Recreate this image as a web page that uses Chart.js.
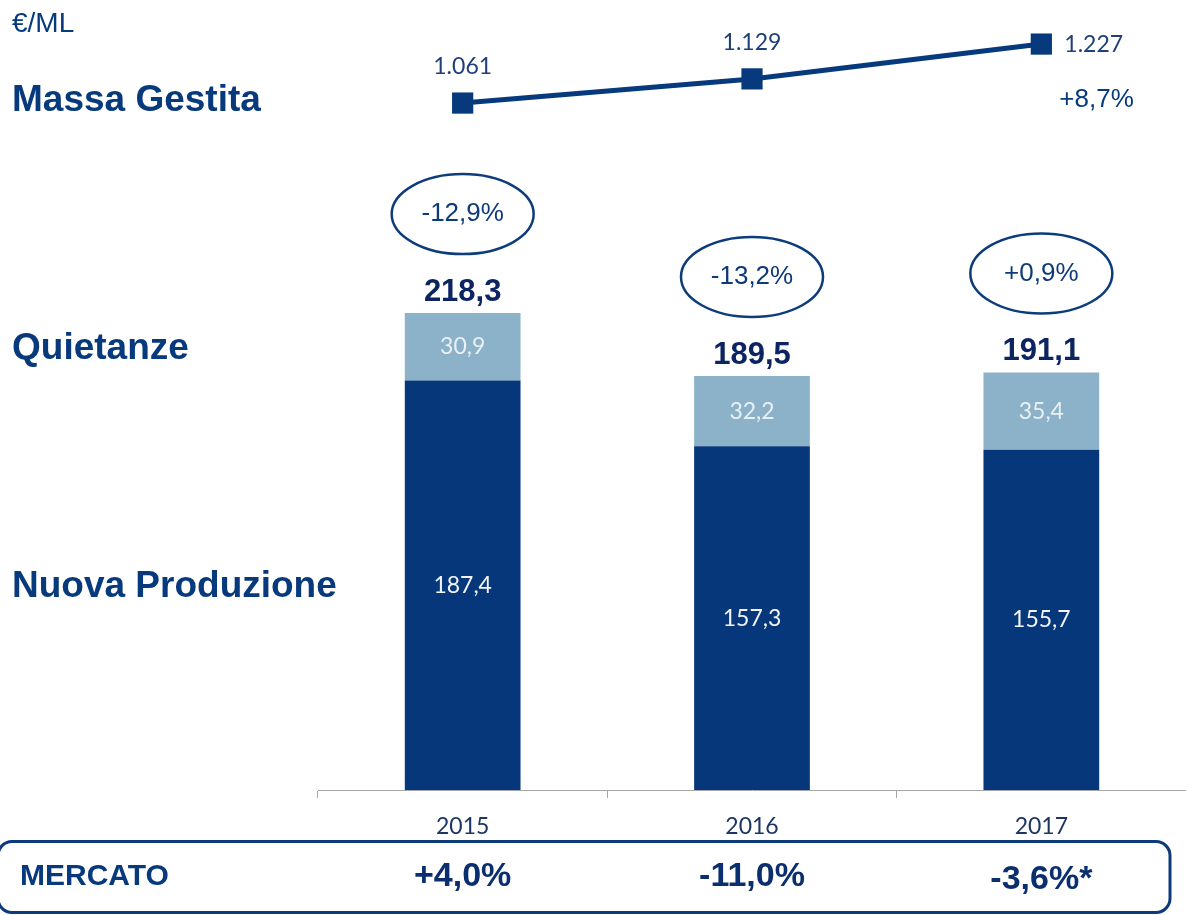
<!DOCTYPE html>
<html lang="it">
<head>
<meta charset="utf-8">
<title>Massa Gestita</title>
<script src="https://cdn.jsdelivr.net/npm/chart.js@4.4.1/dist/chart.umd.min.js"></script>
<style>
  html, body { margin: 0; padding: 0; background: #fff; }
  #wrap { width: 1186px; height: 915px; }
</style>
</head>
<body>
<div id="wrap"><canvas id="chart" width="1186" height="915"></canvas></div>
<script>
// Dati (€/ML)
const years = ['2015', '2016', '2017'];
const nuovaProduzione = [187.4, 157.3, 155.7];
const quietanze = [30.9, 32.2, 35.4];
const totali = [218.3, 189.5, 191.1];
const massaGestita = [1061, 1129, 1227];
const variazioni = ['-12,9%', '-13,2%', '+0,9%'];
const mercato = ['+4,0%', '-11,0%', '-3,6%*'];
const crescitaMassa = '+8,7%';

const BLU = '#063a7c';
const BLU_SCURO = '#06377a';
const AZZURRO = '#8bb2c8';

const fmt1 = v => v.toFixed(1).replace('.', ',');
const fmtK = v => String(v).replace(/\B(?=(\d{3})+(?!\d))/g, '.');

// etichette, ellissi e riquadro MERCATO
const labelsPlugin = {
    id: 'labels',
    afterDatasetsDraw(chart) {
        const ctx = chart.ctx;
        const xs = chart.scales.x;
        const dark = chart.getDatasetMeta(0).data;
        const light = chart.getDatasetMeta(1).data;
        const pts = chart.getDatasetMeta(2).data;

        ctx.save();
        ctx.textBaseline = 'middle';

        // valori dentro le barre
        ctx.textAlign = 'center';
        ctx.font = '23px Lato';
        dark.forEach((b, i) => {
            ctx.fillStyle = '#f2f4f7';
            ctx.fillText(fmt1(nuovaProduzione[i]), b.x, (b.y + b.base) / 2);
        });
        light.forEach((b, i) => {
            ctx.fillStyle = '#e9f0f4';
            ctx.fillText(fmt1(quietanze[i]), b.x, (b.y + b.base) / 2);
        });

        // totali + ellissi con variazione
        light.forEach((b, i) => {
            ctx.font = 'bold 31px "Liberation Sans", Arial, sans-serif';
            ctx.fillStyle = '#0c2462';
            ctx.fillText(fmt1(totali[i]), b.x, b.y - 21);

            const cy = b.y - 99;
            ctx.beginPath();
            ctx.ellipse(b.x, cy, 71, 40, 0, 0, Math.PI * 2);
            ctx.lineWidth = 2.5;
            ctx.strokeStyle = '#0d3c7b';
            ctx.stroke();
            ctx.font = '26px "Liberation Sans", Arial, sans-serif';
            ctx.fillStyle = '#0d3a78';
            ctx.fillText(variazioni[i], b.x, cy);
        });

        // etichette linea massa gestita
        ctx.font = '23px Lato';
        ctx.fillStyle = '#1f3f7a';
        pts.forEach((p, i) => {
            if (i < pts.length - 1) {
                ctx.textAlign = 'center';
                ctx.fillText(fmtK(massaGestita[i]), p.x, p.y - 36);
            } else {
                ctx.textAlign = 'left';
                ctx.fillText(fmtK(massaGestita[i]), p.x + 23, p.y + 1);
            }
        });
        const last = pts[pts.length - 1];
        ctx.textAlign = 'left';
        ctx.font = '26px "Liberation Sans", Arial, sans-serif';
        ctx.fillStyle = BLU;
        ctx.fillText(crescitaMassa, last.x + 18, last.y + 56);

        // titoli a sinistra
        ctx.fillStyle = BLU;
        ctx.font = '28px "Liberation Sans", Arial, sans-serif';
        ctx.fillText('€/ML', 12, 24);
        ctx.font = 'bold 37px "Liberation Sans", Arial, sans-serif';
        ctx.fillText('Massa Gestita', 12, pts[0].y - 2);
        ctx.fillText('Quietanze', 12, (light[0].y + light[0].base) / 2 + 2);
        ctx.fillText('Nuova Produzione', 12, (dark[0].y + dark[0].base) / 2 + 2);

        // riquadro MERCATO
        ctx.beginPath();
        ctx.roundRect(-2, 841.5, 1172, 71, 14);
        ctx.lineWidth = 3;
        ctx.strokeStyle = '#0d3a7a';
        ctx.stroke();
        ctx.font = 'bold 30px "Liberation Sans", Arial, sans-serif';
        ctx.fillStyle = BLU;
        ctx.fillText('MERCATO', 20, 877);
        ctx.textAlign = 'center';
        ctx.font = 'bold 34px "Liberation Sans Narrow", "Liberation Sans", sans-serif';
        ctx.fillStyle = '#0b2f6e';
        mercato.forEach((m, i) => {
            ctx.fillText(m, xs.getPixelForValue(i), i === mercato.length - 1 ? 880 : 877);
        });

        ctx.restore();
    }
};

const ctx = document.getElementById('chart').getContext('2d');
new Chart(ctx, {
    type: 'bar',
    data: {
        labels: years,
        datasets: [
            {
                label: 'Nuova Produzione',
                data: nuovaProduzione,
                backgroundColor: BLU_SCURO,
                stack: 'raccolta',
                barPercentage: 0.4,
                categoryPercentage: 1
            },
            {
                label: 'Quietanze',
                data: quietanze,
                backgroundColor: AZZURRO,
                stack: 'raccolta',
                barPercentage: 0.4,
                categoryPercentage: 1
            },
            {
                type: 'line',
                label: 'Massa Gestita',
                data: massaGestita,
                yAxisID: 'y2',
                stack: 'massa',
                borderColor: BLU,
                borderWidth: 5,
                pointStyle: 'rect',
                pointRadius: 15,
                pointBackgroundColor: BLU,
                pointBorderWidth: 0,
                clip: false
            }
        ]
    },
    options: {
        responsive: false,
        animation: false,
        layout: {
            autoPadding: false,
            padding: { left: 318, top: 0, right: 0, bottom: 0 }
        },
        plugins: {
            legend: { display: false },
            tooltip: { enabled: false }
        },
        scales: {
            x: {
                stacked: true,
                offset: true,
                grid: {
                    offset: true,
                    drawOnChartArea: false,
                    drawTicks: true,
                    tickLength: 8,
                    color: '#a6a6a6'
                },
                border: { display: true, color: '#a6a6a6', width: 1 },
                ticks: {
                    color: '#1d3563',
                    font: { family: 'Lato', size: 23 },
                    padding: 15
                },
                afterFit: (scale) => { scale.height = 125; }
            },
            y: {
                stacked: true,
                display: false,
                min: 0,
                max: 361.6
            },
            y2: {
                display: false,
                min: -872,
                max: 1351
            }
        }
    },
    plugins: [labelsPlugin]
});
</script>
</body>
</html>
